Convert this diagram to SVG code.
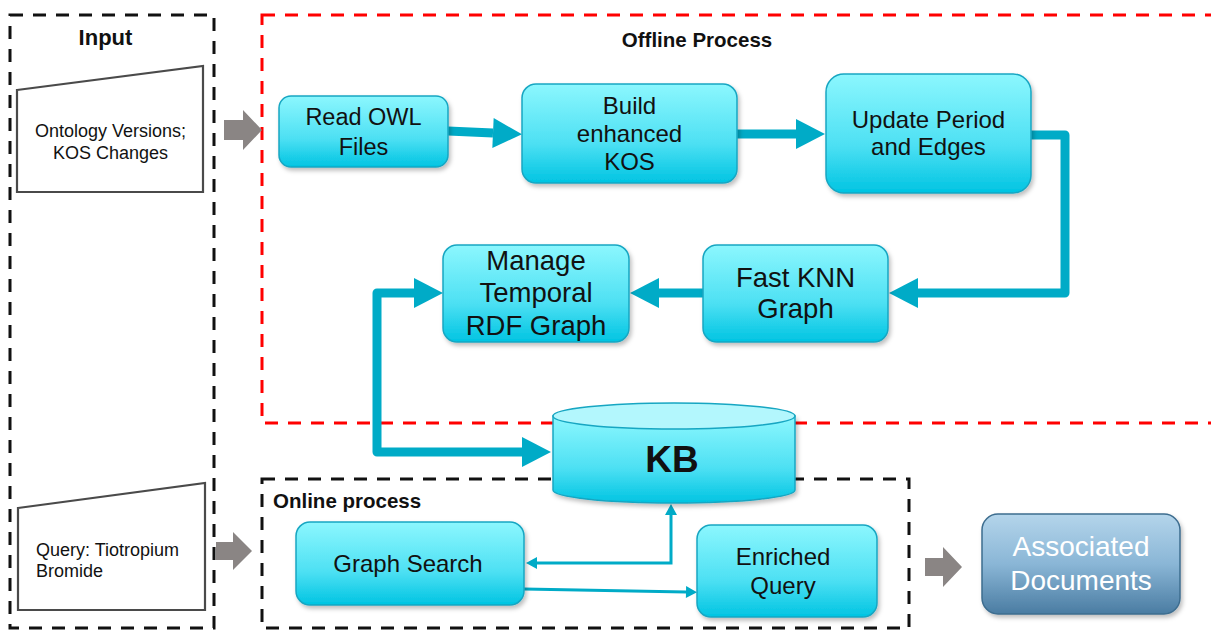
<svg xmlns="http://www.w3.org/2000/svg" width="1211" height="632" viewBox="0 0 1211 632">
<style>
.t{font-family:"Liberation Sans",Arial,sans-serif;fill:#111;}
.b{font-weight:bold;}
.node{fill:url(#cyan);stroke:#17a6c2;stroke-width:1.5;filter:url(#sh);}
.thick{fill:none;stroke:#00abc7;stroke-width:9;stroke-linejoin:round;}
.thin{fill:none;stroke:#00abc7;stroke-width:3;}
.gray{fill:#8a8584;}
.trap{fill:#fff;stroke:#4a4a4a;stroke-width:2.2;}
.dk{fill:none;stroke:#111;stroke-width:3;stroke-dasharray:13 10;}
.rd{fill:none;stroke:#ff0000;stroke-width:3;stroke-dasharray:13 10;}
</style>
<defs>
<linearGradient id="cyan" x1="0" y1="0" x2="0" y2="1">
<stop offset="0" stop-color="#8cf7fe"/>
<stop offset="0.6" stop-color="#4de0f3"/>
<stop offset="1" stop-color="#00c4e2"/>
</linearGradient>
<linearGradient id="blue" x1="0" y1="0" x2="0" y2="1">
<stop offset="0" stop-color="#b4d5eb"/>
<stop offset="0.5" stop-color="#8ab6d6"/>
<stop offset="1" stop-color="#4a7ca2"/>
</linearGradient>
<filter id="sh" x="-10%" y="-10%" width="130%" height="130%">
<feDropShadow dx="2" dy="3" stdDeviation="2" flood-color="#000" flood-opacity="0.25"/>
</filter>
<marker id="ah" markerUnits="userSpaceOnUse" markerWidth="30" markerHeight="30" refX="0" refY="15" orient="auto-start-reverse" overflow="visible">
<path d="M0,0 L29,15 L0,30 z" fill="#00abc7"/>
</marker>
<marker id="ahs" markerUnits="userSpaceOnUse" markerWidth="12" markerHeight="12" refX="0" refY="6" orient="auto-start-reverse" overflow="visible">
<path d="M0,0 L11,6 L0,12 z" fill="#00abc7"/>
</marker>
</defs>

<rect width="1211" height="632" fill="#fff"/>

<g id="containers">
<rect class="dk" x="10" y="15" width="204" height="613"/>
<rect class="rd" x="262" y="15" width="1000" height="408"/>
<rect class="dk" x="262" y="479" width="647" height="149"/>
<text class="t b" x="105.5" y="45" font-size="22" text-anchor="middle">Input</text>
<text class="t b" x="697" y="47" font-size="20.5" text-anchor="middle">Offline Process</text>
<text class="t b" x="273" y="508" font-size="20.5">Online process</text>
</g>

<g id="input-ontology">
<path class="trap" d="M17,90 L203,66 L203,192 L17,192 Z"/>
<text class="t" x="110.5" y="137" font-size="18" text-anchor="middle">Ontology Versions;</text>
<text class="t" x="110.5" y="159" font-size="18" text-anchor="middle">KOS Changes</text>
</g>

<g id="input-query">
<path class="trap" d="M18,508 L205,483 L205,610 L18,610 Z"/>
<text class="t" x="36" y="556" font-size="18">Query: Tiotropium</text>
<text class="t" x="36" y="577" font-size="18">Bromide</text>
</g>

<g id="connectors">
<path class="gray" d="M224,120 H243 V110 L262,130 L243,150 V140 H224 Z"/>
<path class="gray" d="M216,542 H233 V532 L252,551 L233,570 V560 H216 Z"/>
<path class="gray" d="M925,558 H943 V547 L962,567 L943,587 V576 H925 Z"/>
<path class="thick" d="M448,131 L493,133" marker-end="url(#ah)"/>
<path class="thick" d="M737,134 L796,134" marker-end="url(#ah)"/>
<path class="thick" d="M1031,135 H1065 V293 H918" marker-end="url(#ah)"/>
<path class="thick" d="M703,293 H659" marker-end="url(#ah)"/>
<path class="thick" d="M522,452 H377 V293 H414" marker-start="url(#ah)" marker-end="url(#ah)"/>
<path class="thin" d="M537,563 H671 V515" marker-start="url(#ahs)" marker-end="url(#ahs)"/>
<path class="thin" d="M524,589 L686,592" marker-end="url(#ahs)"/>
</g>

<g id="node-read-owl">
<rect class="node" x="279" y="96" width="169" height="71" rx="12"/>
<text class="t" x="363.5" y="125" font-size="23.5" text-anchor="middle">Read OWL</text>
<text class="t" x="363.5" y="155" font-size="23.5" text-anchor="middle">Files</text>
</g>

<g id="node-build-kos">
<rect class="node" x="522" y="84" width="215" height="99" rx="14"/>
<text class="t" x="629.5" y="114" font-size="24" text-anchor="middle">Build</text>
<text class="t" x="629.5" y="142" font-size="24" text-anchor="middle">enhanced</text>
<text class="t" x="629.5" y="170" font-size="24" text-anchor="middle">KOS</text>
</g>

<g id="node-update">
<rect class="node" x="826" y="74" width="205" height="119" rx="18"/>
<text class="t" x="928.5" y="128" font-size="24" text-anchor="middle">Update Period</text>
<text class="t" x="928.5" y="155" font-size="24" text-anchor="middle">and Edges</text>
</g>

<g id="node-fast-knn">
<rect class="node" x="703" y="245" width="185" height="97" rx="14"/>
<text class="t" x="795.5" y="287" font-size="27.5" text-anchor="middle">Fast KNN</text>
<text class="t" x="795.5" y="318" font-size="27.5" text-anchor="middle">Graph</text>
</g>

<g id="node-manage">
<rect class="node" x="443" y="245" width="186" height="97" rx="14"/>
<text class="t" x="536" y="270" font-size="27.5" text-anchor="middle">Manage</text>
<text class="t" x="536" y="302" font-size="27.5" text-anchor="middle">Temporal</text>
<text class="t" x="536" y="335" font-size="27.5" text-anchor="middle">RDF Graph</text>
</g>

<g id="node-kb">
<path d="M553,416 V490 A121,13 0 0 0 795,490 V416 Z" fill="url(#cyan)" stroke="#17a6c2" stroke-width="1.5" filter="url(#sh)"/>
<ellipse cx="674" cy="416" rx="121" ry="13" fill="#b3f7fd" stroke="#17a6c2" stroke-width="1.5"/>
<text class="t b" x="672" y="472" font-size="37" text-anchor="middle">KB</text>
</g>

<g id="node-graph-search">
<rect class="node" x="296" y="522" width="228" height="83" rx="14"/>
<text class="t" x="408" y="572" font-size="24" text-anchor="middle">Graph Search</text>
</g>

<g id="node-enriched">
<rect class="node" x="697" y="525" width="180" height="92" rx="14"/>
<text class="t" x="783" y="565" font-size="24" text-anchor="middle">Enriched</text>
<text class="t" x="783" y="594" font-size="24" text-anchor="middle">Query</text>
</g>

<g id="node-associated">
<rect x="982" y="514" width="198" height="100" rx="16" fill="url(#blue)" stroke="#3d6d8f" stroke-width="1.5" filter="url(#sh)"/>
<text class="t" x="1081" y="556" font-size="28" text-anchor="middle" style="fill:#fff">Associated</text>
<text class="t" x="1081" y="590" font-size="28" text-anchor="middle" style="fill:#fff">Documents</text>
</g>
</svg>
